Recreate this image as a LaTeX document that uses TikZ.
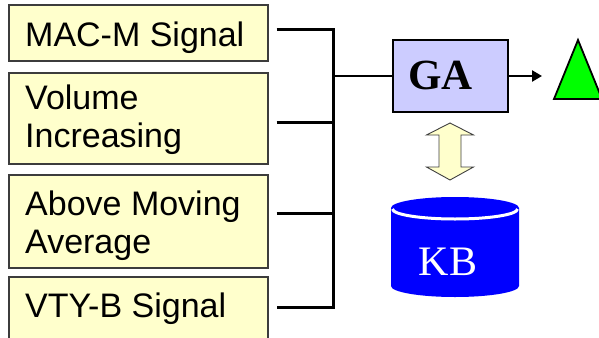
\documentclass[tikz,border=0pt]{standalone}
\usepackage{fontspec}
\setmainfont{Liberation Sans}
\newfontfamily\serifface{Liberation Serif}
\usetikzlibrary{arrows.meta}

\definecolor{inputfill}{RGB}{255,255,204}
\definecolor{inputedge}{RGB}{60,60,60}
\definecolor{gafill}{RGB}{204,204,255}
\definecolor{kbblue}{RGB}{0,0,255}
\definecolor{outgreen}{RGB}{0,255,0}
\definecolor{linkfill}{RGB}{255,255,204}

\tikzset{
  inputbox/.style={draw=inputedge, line width=1.3pt, fill=inputfill,
    minimum width=259pt, inner sep=0pt},
  inputtext/.style={anchor=base west, inner sep=0pt,
    font=\fontsize{34}{38}\selectfont},
  busline/.style={line width=3pt, line join=miter, line cap=butt},
  feedline/.style={line width=2.6pt},
  gabox/.style={draw=black, line width=1.3pt, fill=gafill,
    minimum width=115pt, minimum height=72pt, inner sep=0pt},
}

\begin{document}
\begin{tikzpicture}[x=1pt,y=-1pt]
  \clip (0,0) rectangle (599,337);
  \fill[white] (0,0) rectangle (599,337);

  % input signal boxes
  \node[inputbox, minimum height=56pt] (b1) at (138.5,33) {};
  \node[inputbox, minimum height=91pt] (b2) at (138.5,118.5) {};
  \node[inputbox, minimum height=93pt] (b3) at (138.5,221.5) {};
  \node[inputbox, minimum height=68pt] (b4) at (138.5,311) {};

  \node[inputtext] (t1)  at (25,46)  {MAC-M Signal};
  \node[inputtext] (t2a) at (25,109) {Volume};
  \node[inputtext] (t2b) at (25,147) {Increasing};
  \node[inputtext] (t3a) at (25,215) {Above Moving};
  \node[inputtext] (t3b) at (25,253) {Average};
  \node[inputtext] (t4)  at (25,317) {VTY-B Signal};

  % collecting bus
  \coordinate (busbot) at (333,307);
  \coordinate (busmid) at (333,76);
  \draw[busline] ([shift={(8,-3)}]b1.east) -| (busbot)
                 -- ([shift={(8,-4)}]b4.east);
  \draw[busline] ([shift={(8,3.5)}]b2.east) -- ++(57,0);
  \draw[busline] ([shift={(8,-8.5)}]b3.east) -- ++(57,0);

  % genetic algorithm block
  \node[gabox] (ga) at (450.5,76) {};
  \node[inner sep=0pt, font=\serifface\bfseries\fontsize{43}{43}\selectfont]
    (galabel) at ([xshift=-10pt,yshift=1pt]ga.center) {GA};
  \draw[feedline] (busmid) -- (ga.west);

  % output arrow and triangle
  \coordinate (outtip) at (542,76);
  \draw[feedline, -{Triangle[length=10pt,width=11pt]}] (ga.east) -- (outtip);
  \draw[fill=outgreen, draw=black, line width=1.8pt, line join=miter]
    (578,40) -- (602,99) -- (554,99) -- cycle;

  % two-way link between GA and KB
  \draw[fill=linkfill, draw=black!75, line width=0.9pt, line join=miter]
    (450,123) -- (473.5,135) -- (461,135) -- (461,167) -- (473.5,167)
    -- (450,180) -- (426.5,167) -- (439,167) -- (439,135) -- (426.5,135)
    -- cycle;

  % knowledge base cylinder
  \fill[kbblue] (391,208) -- (391,286) arc[start angle=180, end angle=360,
    x radius=64pt, y radius=11pt] -- (519,208) arc[start angle=0,
    end angle=180, x radius=64pt, y radius=11pt] -- cycle;
  \draw[white, line width=3pt] (392.5,209) arc[start angle=180, end angle=360,
    x radius=62.5pt, y radius=10pt];
  \node[inner sep=0pt, text=white, font=\serifface\fontsize{42}{42}\selectfont]
    (kb) at (448,262) {KB};
\end{tikzpicture}
\end{document}
